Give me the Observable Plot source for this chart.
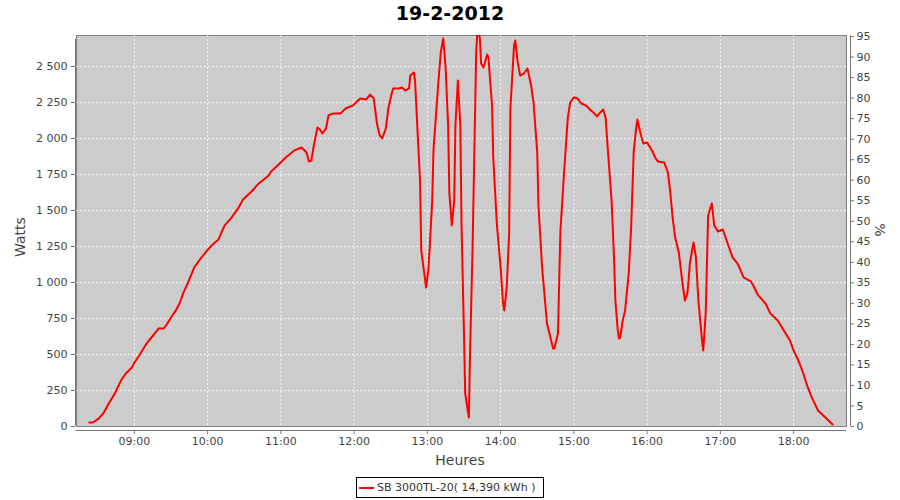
<!DOCTYPE html>
<html><head><meta charset="utf-8">
<script src="https://cdn.jsdelivr.net/npm/d3@7"></script>
<script src="https://cdn.jsdelivr.net/npm/@observablehq/plot@0.6"></script>
<style>
body{margin:0;background:#fff;font-family:"DejaVu Sans",sans-serif;}
#wrap{position:relative;width:900px;height:500px;overflow:hidden;}
#chart{position:absolute;left:0;top:0;}
#title{position:absolute;top:2px;left:0;width:900px;text-align:center;font-weight:bold;font-size:19px;color:#000;}
.lab{position:absolute;font-size:14px;color:#444;white-space:nowrap;}
#legend{position:absolute;left:356px;top:477px;width:186px;height:19px;border:1px solid #000;font-size:11px;color:#333;display:flex;align-items:center;white-space:nowrap;overflow:hidden;}
#legend svg{margin:0 3px 0 2px;flex:none;}
</style></head>
<body><div id="wrap">
<div id="chart"></div>
<div id="title">19-2-2012</div>
<div class="lab" id="ylab" style="left:20px;top:237px;transform:translate(-50%,-50%) rotate(-90deg);">Watts</div>
<div class="lab" id="y2lab" style="left:880px;top:230px;transform:translate(-50%,-50%) rotate(90deg);">%</div>
<div class="lab" id="xlab" style="left:460px;top:460px;transform:translate(-50%,-50%);">Heures</div>
<div id="legend"><svg width="15" height="10"><line x1="0" x2="15" y1="5" y2="5" stroke="red" stroke-width="2"/></svg><span>SB 3000TL-20( 14,390 kWh )</span></div>
</div>
<script>
const times = ["08:23","08:26","08:31","08:35","08:39","08:44","08:49","08:53","08:58","09:00",
"09:04","09:10","09:14","09:20","09:24","09:26","09:30","09:34","09:37","09:40",
"09:44","09:47","09:49","09:55","10:01","10:05","10:09","10:11","10:14","10:19",
"10:25","10:29","10:36","10:41","10:50","10:52","10:59","11:04","11:11","11:17",
"11:21","11:23","11:25","11:27","11:30","11:32","11:34","11:37","11:39","11:43",
"11:49","11:53","11:59","12:05","12:10","12:13","12:16","12:19","12:21","12:23",
"12:26","12:28","12:31","12:32","12:37","12:39","12:42","12:45","12:46","12:49",
"12:50","12:52","12:54","12:55","12:59","13:01","13:04","13:05","13:09","13:11",
"13:13","13:15","13:17","13:18","13:20","13:22","13:23","13:25","13:27","13:28",
"13:30","13:31","13:34","13:35","13:37","13:40","13:41","13:43","13:44","13:46",
"13:49","13:50","13:53","13:54","13:57","14:00","14:02","14:03","14:05","14:07",
"14:08","14:11","14:12","14:14","14:16","14:19","14:22","14:25","14:27","14:30",
"14:31","14:34","14:38","14:40","14:43","14:44","14:47","14:48","14:49","14:52",
"14:55","14:57","15:00","15:03","15:06","15:10","15:14","15:16","15:19","15:21",
"15:24","15:26","15:28","15:31","15:33","15:34","15:36","15:37","15:38","15:40",
"15:42","15:45","15:47","15:49","15:51","15:52","15:55","15:57","16:00","16:04",
"16:07","16:09","16:14","16:17","16:19","16:21","16:23","16:26","16:29","16:31",
"16:33","16:34","16:35","16:38","16:40","16:42","16:45","16:46","16:48","16:50",
"16:53","16:55","16:58","17:02","17:06","17:10","17:14","17:16","17:19","17:25",
"17:27","17:31","17:37","17:41","17:47","17:52","17:57","18:00","18:04","18:08",
"18:11","18:15","18:20","18:26","18:32"];
const watts = [28,28,56,97,160,229,319,368,410,444,
493,576,618,681,681,701,757,806,854,924,
1000,1062,1104,1174,1236,1271,1299,1340,1396,1444,
1514,1576,1632,1680,1743,1771,1826,1868,1917,1937,
1903,1840,1847,1951,2076,2062,2035,2069,2160,2174,
2174,2208,2229,2278,2271,2305,2278,2090,2021,2000,
2069,2208,2319,2347,2347,2354,2333,2347,2437,2458,
2389,2042,1708,1222,965,1104,1569,1917,2389,2597,
2694,2486,2090,1625,1396,1569,2090,2403,2090,1396,
646,229,62,528,1222,2597,2750,2700,2521,2493,
2583,2562,2229,1861,1396,1104,854,806,965,1340,
2208,2646,2680,2528,2437,2451,2486,2368,2250,1903,
1535,1104,715,646,542,542,646,1014,1361,1764,
2139,2250,2285,2278,2243,2229,2194,2180,2153,2174,
2201,2146,1903,1556,1153,875,667,611,618,736,
806,1069,1396,1903,2069,2132,2021,1965,1972,1917,
1861,1840,1833,1764,1625,1444,1312,1208,993,875,
924,1014,1132,1278,1174,875,597,528,785,1465,
1549,1396,1354,1368,1271,1174,1132,1097,1035,1007,
979,910,854,785,736,667,597,528,458,368,
285,201,111,62,14];
const hourLabels = ["09:00","10:00","11:00","12:00","13:00","14:00","15:00","16:00","17:00","18:00"];
const wattTicks = [0,250,500,750,1000,1250,1500,1750,2000,2250,2500];
const pctTicks = [0,5,10,15,20,25,30,35,40,45,50,55,60,65,70,75,80,85,90,95];

const day = "2012-02-19T";
const toDate = t => new Date(day + t + ":00Z");
const data = times.map((t, i) => ({time: toDate(t), watts: watts[i]}));
const hourTicks = hourLabels.map(toDate);
const xDomain = [new Date(day + "08:12:36Z"), new Date(day + "18:43:20Z")];
const yMax = 2715;
const PCT = 28.5;
const fmtW = d => d3.format(",")(d).replace(/,/g, " ");

const chart = Plot.plot({
  width: 900, height: 475,
  marginTop: 35, marginBottom: 49, marginLeft: 76, marginRight: 54,
  style: {background: "transparent", fontFamily: "DejaVu Sans", fontSize: "11px", color: "#444"},
  x: {type: "utc", domain: xDomain},
  y: {domain: [0, yMax]},
  marks: [
    Plot.frame({fill: "#cccccc", stroke: "#808080"}),
    Plot.gridX(hourTicks, {stroke: "#fff", strokeOpacity: 0.75, strokeDasharray: "2,2"}),
    Plot.gridY(wattTicks.filter(d => d > 0), {stroke: "#fff", strokeOpacity: 0.75, strokeDasharray: "2,2"}),
    Plot.line(data, {x: "time", y: "watts", stroke: "red", strokeWidth: 2, clip: true}),
    Plot.ruleX([xDomain[0]], {dx: -1, stroke: "#777", y1: 0, y2: yMax, insetBottom: -4}),
    Plot.ruleX([xDomain[1]], {dx: 4, stroke: "#777"}),
    Plot.ruleY([0], {dy: 4, stroke: "#777"}),
    Plot.axisY(wattTicks, {anchor: "left", tickFormat: fmtW, tickSize: 4, dx: -1, tickPadding: 4, label: null, stroke: "#777"}),
    Plot.axisY(pctTicks.map(p => p * PCT), {anchor: "right", tickFormat: d => String(Math.round(d / PCT)), tickSize: 3, dx: 4, tickPadding: 3, label: null, stroke: "#777"}),
    Plot.axisX(hourTicks, {tickFormat: d3.utcFormat("%H:%M"), tickSize: 4, dy: 4, tickPadding: 3, label: null, stroke: "#777"})
  ]
});
document.getElementById("chart").appendChild(chart);
</script>
</body></html>
